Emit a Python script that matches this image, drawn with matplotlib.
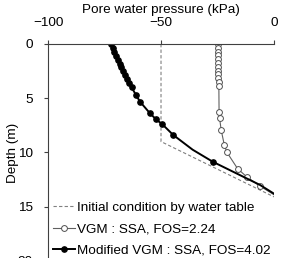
import matplotlib
matplotlib.use("Agg")
import matplotlib.pyplot as plt

plt.rcParams["font.family"] = ["Liberation Sans", "DejaVu Sans"]

# initial condition by water table
init_x = [-50.0, -50.0, 0.0]
init_depth = [0.0, 9.0, 14.1]

# VGM : SSA
vgm_x = [-24.9, -24.9, -24.9, -24.8, -24.8, -24.8, -24.7, -24.7, -24.6, -24.6, -24.5, -24.4,
         -24.3, -24.1, -23.4, -22.0, -20.8, -16.1, -11.8, -6.2, 1.5]
vgm_depth = [0.0, 0.35, 0.7, 1.05, 1.4, 1.75, 2.1, 2.45, 2.8, 3.15, 3.5, 3.85,
             6.3, 6.8, 7.9, 9.3, 10.0, 11.5, 12.3, 13.1, 14.1]

# Modified VGM : SSA
mod_x = [-72.0, -71.3, -70.6, -69.9, -69.1, -68.3, -67.5, -66.7, -65.8, -64.9, -64.0, -63.0,
         -61.1, -59.3, -54.9, -52.2, -49.4, -44.6, -36.0, -27.1, -15.0, -6.2, 1.5]
mod_depth = [0.0, 0.36, 0.72, 1.08, 1.44, 1.8, 2.16, 2.52, 2.88, 3.24, 3.6, 4.0,
             4.7, 5.32, 6.39, 6.95, 7.41, 8.39, 9.75, 10.86, 12.1, 13.0, 14.0]
mod_marks = list(range(0, 18)) + [19]

FS = 9.7

fig = plt.figure(figsize=(2.81, 2.58), dpi=100)
ax = fig.add_axes([0.171, -0.011, 0.804, 0.8405])

ax.plot(init_x, init_depth, color="#808080", linestyle="--", linewidth=0.8,
        dashes=(3, 2), label="Initial condition by water table")
ax.plot(vgm_x, vgm_depth, color="#606060", linewidth=0.8, marker="o", markersize=4.2,
        markerfacecolor="white", markeredgecolor="#505050", markeredgewidth=0.7,
        markevery=list(range(len(vgm_x) - 1)), label="VGM : SSA, FOS=2.24")
ax.plot(mod_x, mod_depth, color="black", linewidth=1.4, marker="o", markersize=3.8,
        markerfacecolor="black", markeredgecolor="black",
        markevery=mod_marks, label="Modified VGM : SSA, FOS=4.02")

ax.set_xlim(-100, 0)
ax.set_ylim(20, 0)
ax.set_xticks([-100, -50, 0])
ax.set_yticks([0, 5, 10, 15, 20])
ax.xaxis.tick_top()
ax.xaxis.set_label_position("top")
ax.set_xlabel("Pore water pressure (kPa)", fontsize=FS, labelpad=3)
ax.set_ylabel("Depth (m)", fontsize=FS, labelpad=-1)
ax.tick_params(axis="both", labelsize=FS, direction="out", length=3, width=0.8,
               color="#404040")
ax.tick_params(axis="x", pad=8)
ax.tick_params(axis="y", pad=8)
for side in ["right", "bottom"]:
    ax.spines[side].set_visible(False)
for side in ["top", "left"]:
    ax.spines[side].set_color("#404040")
    ax.spines[side].set_linewidth(0.8)

ax.legend(loc="upper left", bbox_to_anchor=(0.02, 0.275), frameon=False, fontsize=FS,
          borderpad=0, borderaxespad=0, handlelength=1.7, handletextpad=0.15,
          labelspacing=0.68)

fig.savefig("out.png", dpi=100)
